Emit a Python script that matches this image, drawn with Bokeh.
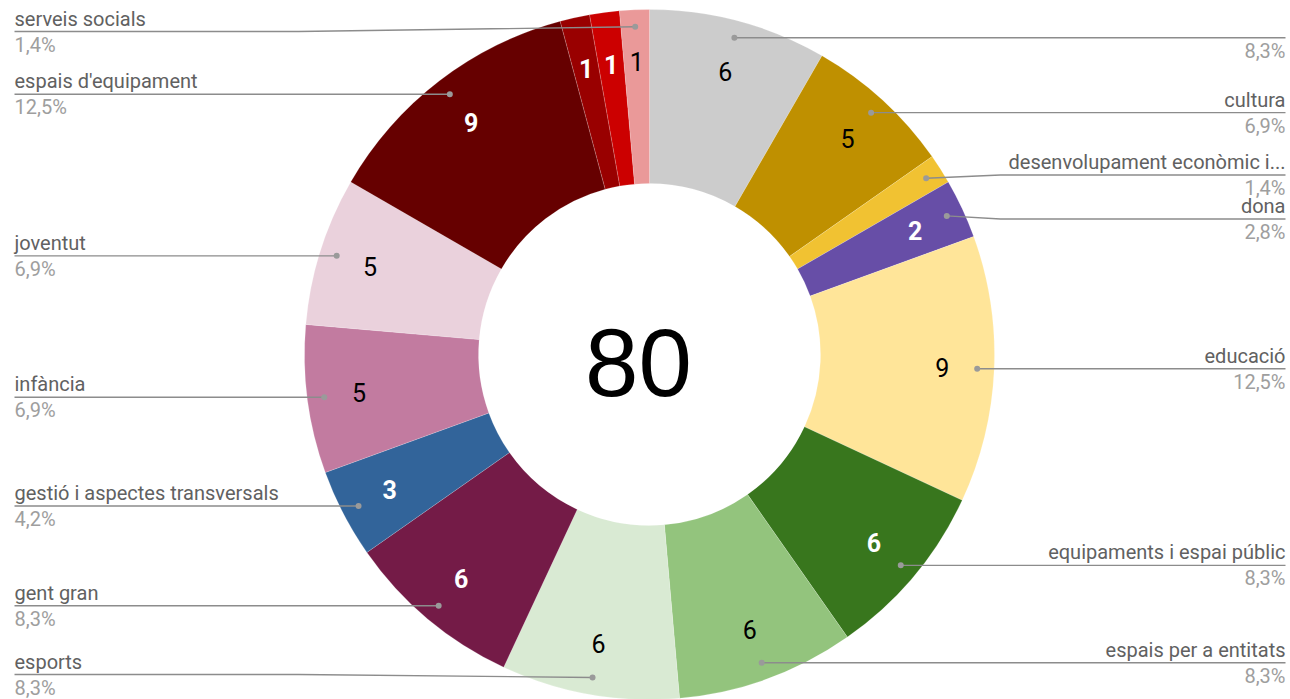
import math
from bokeh.plotting import figure
from bokeh.models import Range1d, ColumnDataSource
from bokeh.core.properties import value
from bokeh.embed import file_html
from bokeh.resources import INLINE

# ---------------- data ----------------
categories = [
    "", "cultura", "desenvolupament econòmic i...", "dona", "educació",
    "equipaments i espai públic", "espais per a entitats", "esports",
    "gent gran", "gestió i aspectes transversals", "infància", "joventut",
    "espais d'equipament", "", "", "serveis socials",
]
counts = [6, 5, 1, 2, 9, 6, 6, 6, 6, 3, 5, 5, 9, 1, 1, 1]
colors = [
    "#cccccc", "#bf9000", "#f1c232", "#674ea7", "#ffe599",
    "#38761d", "#93c47d", "#d9ead3", "#741b47", "#32649a",
    "#c27ba0", "#ead1dc", "#660000", "#990000", "#cc0000", "#ea9999",
]
show_leader = [True] * 13 + [False, False, True]
show_count = [True, True, False] + [True] * 13
center_total = 80

# ---------------- layout (reference pixel space, y down) ----------------
W, H = 1290, 699
CX, CY = 649, 354
R_OUT, R_IN = 345, 171
R_LABEL, R_DOT = 293, 328
RIGHT_EDGE, LEFT_EDGE = 1285, 14
GAP, TOP_MIN, BOTTOM_MAX = 44, 31, 674
FONT = "Roboto"


def Y(y):
    return H - y


p = figure(width=W, height=H, x_range=Range1d(0, W), y_range=Range1d(0, H),
           output_backend="svg", toolbar_location=None, min_border=0)
p.axis.visible = False
p.grid.visible = False
p.outline_line_color = None
p.background_fill_color = "white"
p.border_fill_color = "white"

total = sum(counts)
starts, ends, mids = [], [], []
acc = 0
for c in counts:
    starts.append(acc / total)
    acc += c
    ends.append(acc / total)
    mids.append((acc - c / 2) / total)

src = ColumnDataSource(dict(
    start=[math.pi / 2 - e * 2 * math.pi for e in ends],
    end=[math.pi / 2 - s * 2 * math.pi for s in starts],
    color=colors,
))
p.annular_wedge(x=CX, y=Y(CY), inner_radius=R_IN, outer_radius=R_OUT,
                start_angle="start", end_angle="end", fill_color="color",
                line_color="white", line_width=0.5, line_alpha=0.35, source=src)

# counts inside slices
def lum(h):
    r, g, b = int(h[1:3], 16), int(h[3:5], 16), int(h[5:7], 16)
    return 0.299 * r + 0.587 * g + 0.114 * b

for i, c in enumerate(counts):
    if not show_count[i]:
        continue
    a = mids[i] * 2 * math.pi
    x = CX + R_LABEL * math.sin(a)
    y = CY - R_LABEL * math.cos(a)
    dark = lum(colors[i]) < 128
    p.text(x=[x], y=[Y(y)], text=[str(c)], text_align="center", text_baseline="middle",
           text_font=value(FONT), text_font_size="25px",
           text_font_style="bold" if dark else "normal",
           text_color="white" if dark else "black")

# leader labels
def pct(c):
    return f"{c / total * 100:.1f}".replace(".", ",") + "%"

sides = {"R": [], "L": []}
for i in range(len(counts)):
    if not show_leader[i]:
        continue
    a = mids[i] * 2 * math.pi
    dx = CX + R_DOT * math.sin(a)
    dy = CY - R_DOT * math.cos(a)
    side = "R" if mids[i] < 0.5 else "L"
    sides[side].append([dy, i, dx])

for side, items in sides.items():
    items.sort()
    clusters = [[it] for it in items]

    def place(cl):
        n = len(cl)
        mean = sum(it[0] for it in cl) / n
        top = mean - GAP * (n - 1) / 2
        top = min(top, BOTTOM_MAX - GAP * (n - 1))
        top = max(top, TOP_MIN)
        return [top + GAP * k for k in range(n)]

    changed = True
    while changed:
        changed = False
        for k in range(len(clusters) - 1):
            a_pos = place(clusters[k])
            b_pos = place(clusters[k + 1])
            if b_pos[0] - a_pos[-1] < GAP:
                clusters[k] = clusters[k] + clusters[k + 1]
                del clusters[k + 1]
                changed = True
                break
    for cl in clusters:
        for it, ly in zip(cl, place(cl)):
            dy, i, dx = it
            if side == "R":
                elbow, edge, align = CX + R_OUT + 6, RIGHT_EDGE, "right"
            else:
                elbow, edge, align = CX - R_OUT - 6, LEFT_EDGE, "left"
            p.line(x=[dx, elbow, edge], y=[Y(dy), Y(ly), Y(ly)],
                   line_color="#8c8c8c", line_width=1.4)
            p.scatter(x=[dx], y=[Y(dy)], size=6, fill_color="#9a9a9a", line_color=None)
            if categories[i]:
                p.text(x=[edge], y=[Y(ly - 1)], text=[categories[i]], text_align=align,
                       text_baseline="bottom", text_font=value(FONT),
                       text_font_size="20px", text_color="#616161")
            p.text(x=[edge], y=[Y(ly + 1)], text=[pct(counts[i])], text_align=align,
                   text_baseline="top", text_font=value(FONT),
                   text_font_size="20px", text_color="#9e9e9e")

# center total
p.text(x=[CX - 11], y=[Y(362)], text=[str(center_total)], text_align="center",
       text_baseline="middle", text_font=value("Liberation Sans"),
       text_font_size="96px", text_color="black")

open("out.html", "w").write(file_html(p, INLINE))
